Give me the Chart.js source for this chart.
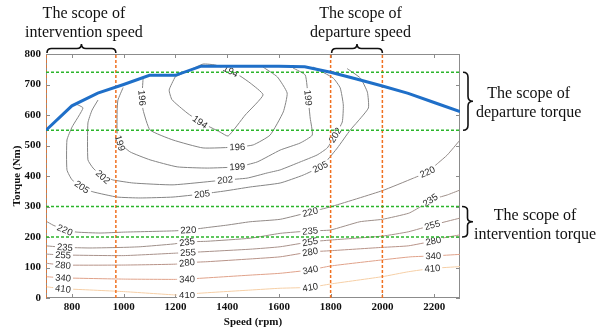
<!DOCTYPE html>
<html>
<head>
<meta charset="utf-8">
<script src="https://cdn.jsdelivr.net/npm/chart.js@4.4.1/dist/chart.umd.min.js"></script>
<style>
  html, body { margin: 0; padding: 0; background: #fff; }
</style>
</head>
<body>
<canvas id="myChart" width="608" height="334"></canvas>
<script>
// Axis limits and tick labels
const speedRange = [700, 2300];
const torqueRange = [0, 800];
const xTicks = [800, 1000, 1200, 1400, 1600, 1800, 2000, 2200];
const yTicks = [0, 100, 200, 300, 400, 500, 600, 700, 800];

// Full load torque curve
const fullSpeed = [700, 800, 900, 1000, 1100, 1200, 1300, 1400, 1500, 1600, 1700, 1800, 1900, 2000, 2100, 2200, 2300];
const fullTorque = [550, 630, 672, 700, 730, 730, 760, 760, 760, 760, 758, 740, 718, 695, 671, 641, 611];

// Scope limits (dashed lines)
const speedScope = [700, 970, 1800, 2000];
const torqueScope = [740, 550, 300, 200];

// Fuel consumption contours [speed, torque]
const c194 = [[1199, 725], [1176, 682], [1187, 650], [1245, 607], [1296, 577], [1373, 544], [1404, 531], [1470, 600], [1539, 666], [1489, 705], [1450, 728], [1404, 748], [1354, 764], [1307, 767], [1257, 748], [1199, 725]];
const c196 = [[1075, 718], [1071, 656], [1075, 617], [1102, 551], [1191, 518], [1307, 492], [1439, 495], [1501, 502], [1566, 534], [1617, 610], [1632, 672], [1594, 725], [1539, 757]];
const c199 = [[998, 690], [978, 649], [975, 616], [975, 541], [986, 508], [1025, 479], [1102, 453], [1207, 430], [1323, 426], [1439, 430], [1516, 446], [1605, 485], [1682, 508], [1729, 534], [1721, 590], [1713, 656], [1702, 731], [1655, 754]];
const c202 = [[901, 649], [878, 616], [862, 574], [862, 453], [882, 426], [920, 397], [959, 387], [1037, 377], [1191, 371], [1392, 387], [1477, 393], [1555, 410], [1605, 420], [1682, 446], [1748, 469], [1787, 492], [1818, 534], [1845, 577], [1849, 633], [1837, 689], [1810, 721], [1733, 757]];
const c205 = [[816, 636], [843, 623], [801, 561], [781, 518], [781, 420], [801, 387], [839, 364], [882, 348], [975, 331], [1064, 328], [1191, 331], [1303, 341], [1392, 351], [1489, 364], [1605, 377], [1694, 403], [1760, 430], [1787, 452], [1826, 492], [1876, 551], [1903, 577], [1946, 623], [1942, 675], [1915, 721], [1864, 752]];
const c220 = [[700, 252], [727, 239], [773, 223], [820, 216], [909, 213], [1000, 216], [1191, 220], [1250, 223], [1323, 231], [1400, 239], [1489, 250], [1605, 258], [1721, 282], [1800, 299], [2000, 352], [2120, 393], [2174, 413], [2216, 443], [2251, 469], [2300, 518]];
const c235 = [[700, 171], [773, 166], [870, 164], [1000, 166], [1064, 168], [1191, 177], [1250, 184], [1323, 186], [1489, 196], [1605, 212], [1721, 220], [1800, 223], [1913, 250], [2000, 258], [2102, 278], [2147, 299], [2185, 321], [2251, 338], [2300, 354]];
const c255 = [[700, 144], [766, 141], [1000, 139], [1200, 147], [1250, 149], [1489, 160], [1605, 168], [1721, 184], [1800, 190], [2000, 203], [2100, 217], [2193, 239], [2300, 262]];
const c280 = [[700, 114], [766, 108], [1000, 108], [1200, 111], [1245, 116], [1323, 119], [1489, 128], [1605, 135], [1721, 151], [1800, 155], [2000, 166], [2100, 171], [2197, 187], [2235, 197], [2300, 207]];
const c340 = [[700, 70], [766, 66], [1000, 62], [1200, 61], [1245, 62], [1489, 75], [1605, 81], [1721, 92], [1800, 105], [2000, 125], [2110, 135], [2197, 138], [2300, 143]];
const c410 = [[700, 37], [766, 30], [800, 29], [1000, 21], [1200, 10], [1245, 10], [1283, 15], [1489, 26], [1605, 32], [1721, 35], [1800, 46], [2000, 70], [2100, 86], [2193, 97], [2300, 103]];

// Where each contour is labelled [speed, torque]
const l194 = [[1412, 741], [1296, 578]];
const l196 = [[1073, 656], [1439, 495]];
const l199 = [[986, 508], [1439, 430], [1713, 656]];
const l202 = [[920, 397], [1392, 387], [1818, 534]];
const l205 = [[839, 364], [1303, 341], [1760, 430]];
const l220 = [[773, 223], [1250, 223], [1721, 282], [2174, 413]];
const l235 = [[773, 166], [1245, 184], [1721, 220], [2185, 321]];
const l255 = [[766, 141], [1249, 148], [1721, 184], [2193, 239]];
const l280 = [[766, 108], [1245, 115], [1721, 151], [2197, 187]];
const l340 = [[766, 66], [1245, 62], [1721, 95], [2197, 138]];
const l410 = [[766, 30], [1245, 10], [1721, 36], [2193, 98]];

const contourLevels = [194, 196, 199, 202, 205, 220, 235, 255, 280, 340, 410];
const contourLines = [c194, c196, c199, c202, c205, c220, c235, c255, c280, c340, c410];
const contourLabels = [l194, l196, l199, l202, l205, l220, l235, l255, l280, l340, l410];
const contourColors = ["#858585", "#858585", "#858585", "#858585", "#858585", "#928a87", "#9e8f89", "#a9928b", "#b89388", "#e0a28a", "#f6cfa6"];

const serif = '"Liberation Serif", "Times New Roman", serif';
const sans = '"Liberation Sans", Arial, sans-serif';

// Datasets
const datasets = [];
datasets.push({
  data: fullSpeed.map((s, i) => ({ x: s, y: fullTorque[i] })),
  borderColor: "#1f6fc8",
  borderWidth: 3,
  order: 0,
});
torqueScope.forEach((t) => {
  datasets.push({
    data: speedRange.map((s) => ({ x: s, y: t })),
    borderColor: "#2bb52b",
    borderWidth: 1.5,
    borderDash: [3, 2],
    order: 1,
  });
});
speedScope.forEach((s) => {
  datasets.push({
    data: torqueRange.map((t) => ({ x: s, y: t })),
    borderColor: "#f07020",
    borderWidth: 1.5,
    borderDash: [3, 2],
    order: 1,
  });
});
const firstContour = datasets.length;
contourLines.forEach((line, k) => {
  datasets.push({
    data: line.map((p) => ({ x: p[0], y: p[1] })),
    borderColor: contourColors[k],
    borderWidth: 1,
    tension: 0.15,
    order: 2,
  });
});

// Contour labels, rotated along the line
const drawContourLabels = (chart) => {
  const xs = chart.scales.x;
  const ys = chart.scales.y;
  const c = chart.ctx;
  c.save();
  c.font = "9.5px " + sans;
  c.textAlign = "center";
  c.textBaseline = "middle";
  contourLevels.forEach((level, k) => {
    const pts = contourLines[k].map((p) => [xs.getPixelForValue(p[0]), ys.getPixelForValue(p[1])]);
    contourLabels[k].forEach((l) => {
      const px = xs.getPixelForValue(l[0]);
      const py = ys.getPixelForValue(l[1]);
      let best = null;
      for (let i = 1; i < pts.length; i++) {
        const ax = pts[i - 1][0], ay = pts[i - 1][1];
        const dx = pts[i][0] - ax, dy = pts[i][1] - ay;
        const len2 = dx * dx + dy * dy || 1;
        let u = ((px - ax) * dx + (py - ay) * dy) / len2;
        u = Math.max(0, Math.min(1, u));
        const qx = ax + u * dx, qy = ay + u * dy;
        const d = (qx - px) * (qx - px) + (qy - py) * (qy - py);
        if (!best || d < best.d) best = { d: d, x: qx, y: qy, a: Math.atan2(dy, dx) };
      }
      let a = best.a;
      if (a > Math.PI / 2) a -= Math.PI;
      if (a <= -Math.PI / 2) a += Math.PI;
      const txt = String(level);
      const w = c.measureText(txt).width;
      c.save();
      c.translate(best.x, best.y);
      c.rotate(a);
      c.fillStyle = "#fff";
      c.fillRect(-w / 2 - 2, -3.5, w + 4, 7);
      c.fillStyle = "#2a2a2a";
      c.fillText(txt, 0, 0.5);
      c.restore();
    });
  });
  c.restore();
};

// Curly brace from (x1,y1) to (x2,y2), tip on the left-hand side
const brace = (c, x1, y1, x2, y2, depth) => {
  const L = Math.hypot(x2 - x1, y2 - y1);
  const h = depth / 2;
  const r = Math.min(h, L / 8);
  c.save();
  c.translate(x1, y1);
  c.rotate(Math.atan2(y2 - y1, x2 - x1));
  c.beginPath();
  c.moveTo(0, 0);
  c.quadraticCurveTo(0, -h, r, -h);
  c.lineTo(L / 2 - r, -h);
  c.quadraticCurveTo(L / 2, -h, L / 2, -depth);
  c.quadraticCurveTo(L / 2, -h, L / 2 + r, -h);
  c.lineTo(L - r, -h);
  c.quadraticCurveTo(L, -h, L, 0);
  c.strokeStyle = "#111";
  c.lineWidth = 1.6;
  c.stroke();
  c.restore();
};

const note = (c, lines, x, y, align) => {
  c.save();
  c.font = "16px " + serif;
  c.fillStyle = "#111";
  c.textBaseline = "middle";
  const w = Math.max(...lines.map((t) => c.measureText(t).width));
  c.textAlign = "center";
  const cx = align === "left" ? x + w / 2 : x;
  lines.forEach((t, i) => c.fillText(t, cx, y + i * 19));
  c.restore();
};

const extras = {
  id: "extras",
  beforeDatasetsDraw(chart) {
    // plot frame with inward ticks
    const a = chart.chartArea;
    const c = chart.ctx;
    const xs = chart.scales.x, ys = chart.scales.y;
    c.save();
    c.strokeStyle = "#8c8c8c";
    c.lineWidth = 1;
    c.strokeRect(a.left + 0.5, a.top + 0.5, a.right - a.left - 1, a.bottom - a.top - 1);
    c.beginPath();
    xTicks.forEach((v) => {
      const x = Math.round(xs.getPixelForValue(v)) + 0.5;
      c.moveTo(x, a.bottom); c.lineTo(x, a.bottom - 4);
      c.moveTo(x, a.top); c.lineTo(x, a.top + 4);
    });
    yTicks.forEach((v) => {
      const y = Math.round(ys.getPixelForValue(v)) + 0.5;
      c.moveTo(a.left, y); c.lineTo(a.left + 4, y);
      c.moveTo(a.right, y); c.lineTo(a.right - 4, y);
    });
    c.stroke();
    c.restore();
  },
  afterDatasetDraw(chart, args) {
    if (args.index === firstContour) drawContourLabels(chart);
  },
  afterDraw(chart) {
    const c = chart.ctx;
    const xs = chart.scales.x, ys = chart.scales.y;
    const a = chart.chartArea;
    // speed scopes (top)
    const s1 = xs.getPixelForValue(speedScope[0]), s2 = xs.getPixelForValue(speedScope[1]);
    const s3 = xs.getPixelForValue(speedScope[2]), s4 = xs.getPixelForValue(speedScope[3]);
    brace(c, s1 + 1, a.top - 1, s2, a.top - 1, 9);
    brace(c, s3 + 1, a.top - 1, s4, a.top - 1, 9);
    note(c, ["The scope of", "intervention speed"], (s1 + s2) / 2 + 3, 14);
    note(c, ["The scope of", "departure speed"], (s3 + s4) / 2 + 4, 14);
    // torque scopes (right)
    const t1 = ys.getPixelForValue(torqueScope[0]), t2 = ys.getPixelForValue(torqueScope[1]);
    const t3 = ys.getPixelForValue(torqueScope[2]), t4 = ys.getPixelForValue(torqueScope[3]);
    brace(c, a.right + 3, t1, a.right + 3, t2, 10);
    brace(c, a.right + 2, t3, a.right + 2, t4, 11);
    note(c, ["The scope of", "departure torque"], a.right + 16, (t1 + t2) / 2 - 7, "left");
    note(c, ["The scope of", "intervention torque"], a.right + 14, (t3 + t4) / 2 - 6, "left");
  },
};

const chart = new Chart(document.getElementById("myChart").getContext("2d"), {
  type: "scatter",
  data: { datasets: datasets },
  options: {
    responsive: false,
    animation: false,
    showLine: true,
    layout: { padding: { top: 54, right: 148, left: 0, bottom: 0 } },
    elements: { point: { radius: 0, hoverRadius: 0 }, line: { fill: false } },
    plugins: { legend: { display: false }, tooltip: { enabled: false } },
    scales: {
      x: {
        type: "linear",
        min: speedRange[0],
        max: speedRange[1],
        afterBuildTicks: (s) => { s.ticks = xTicks.map((v) => ({ value: v })); },
        afterFit: (s) => { s.height = 36; },
        grid: { display: false, drawTicks: false },
        border: { display: false },
        ticks: { color: "#111", padding: 3, maxRotation: 0, callback: (v) => String(v), font: { family: serif, size: 11, weight: "bold" } },
        title: { display: true, text: "Speed (rpm)", color: "#111", padding: { top: 0, bottom: 5 }, font: { family: serif, size: 11, weight: "bold" } },
      },
      y: {
        type: "linear",
        min: torqueRange[0],
        max: torqueRange[1],
        afterBuildTicks: (s) => { s.ticks = yTicks.map((v) => ({ value: v })); },
        afterFit: (s) => { s.width = 46; },
        grid: { display: false, drawTicks: false },
        border: { display: false },
        ticks: { color: "#111", padding: 5, callback: (v) => String(v), font: { family: serif, size: 11, weight: "bold" } },
        title: { display: true, text: "Torque (Nm)", color: "#111", padding: { top: 11, bottom: 0 }, font: { family: serif, size: 11, weight: "bold" } },
      },
    },
  },
  plugins: [extras],
});
</script>
</body>
</html>
